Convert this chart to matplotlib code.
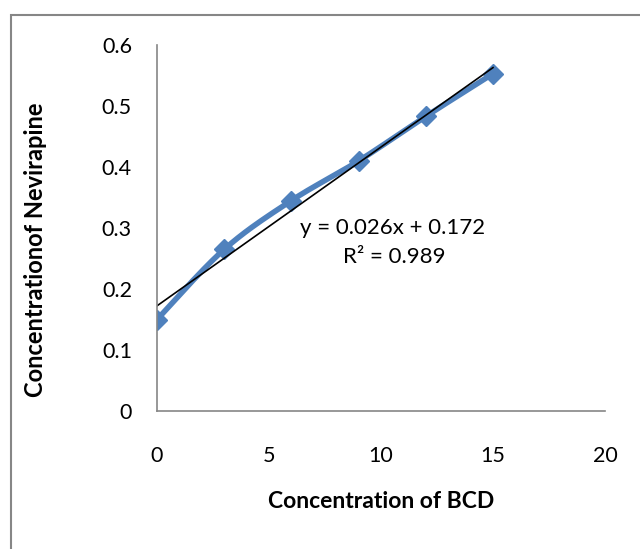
import numpy as np
import matplotlib.pyplot as plt
from matplotlib.patches import Rectangle

# data
bcd = [0, 3, 6, 9, 12, 15]
nevirapine = [0.15, 0.265, 0.345, 0.41, 0.483, 0.553]
x_ticks = [0, 5, 10, 15, 20]
y_ticks = [0, 0.1, 0.2, 0.3, 0.4, 0.5, 0.6]
y_tick_labels = ['0', '0.1', '0.2', '0.3', '0.4', '0.5', '0.6']

plt.rcParams['font.family'] = ['Lato', 'DejaVu Sans']

blue = '#4F81BD'
grey = '#868686'


def smooth(xs, ys, n=30):
    # Excel-like smoothed line (Catmull-Rom style Bezier between points)
    xs = np.asarray(xs, float)
    ys = np.asarray(ys, float)
    px = np.concatenate([[xs[0]], xs, [xs[-1]]])
    py = np.concatenate([[ys[0]], ys, [ys[-1]]])
    out_x, out_y = [], []
    t = np.linspace(0, 1, n)
    for i in range(1, len(px) - 2):
        p0 = np.array([px[i], py[i]])
        p3 = np.array([px[i + 1], py[i + 1]])
        p1 = p0 + (np.array([px[i + 1], py[i + 1]]) - np.array([px[i - 1], py[i - 1]])) / 6
        p2 = p3 - (np.array([px[i + 2], py[i + 2]]) - np.array([px[i], py[i]])) / 6
        b = ((1 - t) ** 3)[:, None] * p0 + (3 * (1 - t) ** 2 * t)[:, None] * p1 \
            + (3 * (1 - t) * t ** 2)[:, None] * p2 + (t ** 3)[:, None] * p3
        out_x.extend(b[:, 0])
        out_y.extend(b[:, 1])
    return out_x, out_y


fig = plt.figure(figsize=(6.4, 5.49), dpi=100)
fig.patches.append(Rectangle((11 / 640, -0.1), 1.2, 1 - 15 / 549 + 0.1,
                             transform=fig.transFigure, fill=False,
                             edgecolor=grey, linewidth=1.5))

ax = fig.add_axes([157 / 640, 1 - 411 / 549, (605 - 157) / 640, (411 - 45) / 549])

sx, sy = smooth(bcd, nevirapine)
ax.plot(sx, sy, color=blue, linewidth=4, solid_capstyle='round')
ax.plot(bcd, nevirapine, linestyle='none', marker='D', markersize=10,
        color=blue)

# linear trendline
slope, intercept = np.polyfit(bcd, nevirapine, 1)
tx = np.array([bcd[0], bcd[-1]])
ax.plot(tx, slope * tx + intercept, color='black', linewidth=1.2)

ax.text(0.525, 0.5, 'y = 0.026x + 0.172', transform=ax.transAxes,
        ha='center', va='center', fontsize=16)
ax.text(0.53, 0.42, 'R² = 0.989', transform=ax.transAxes,
        ha='center', va='center', fontsize=16)

ax.set_xlim(0, 20)
ax.set_ylim(0, 0.6)
ax.set_xticks(x_ticks)
ax.set_yticks(y_ticks)
ax.set_yticklabels(y_tick_labels)
ax.tick_params(length=0, labelsize=15.5)
ax.tick_params(axis='x', pad=25)
ax.tick_params(axis='y', pad=18)

for s in ['top', 'right']:
    ax.spines[s].set_visible(False)
for s in ['left', 'bottom']:
    ax.spines[s].set_color(grey)
    ax.spines[s].set_linewidth(1.2)

ax.set_xlabel('Concentration of BCD', fontsize=16.5, fontweight='bold', labelpad=18)
ax.set_ylabel('Concentrationof Nevirapine', fontsize=17, fontweight='bold')
ax.yaxis.set_label_coords(-0.245, 0.44)

fig.savefig('out.png', dpi=100)
